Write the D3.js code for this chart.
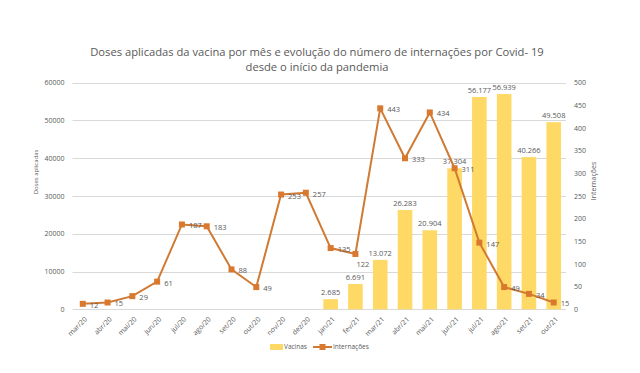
<!DOCTYPE html>
<html>
<head>
<meta charset="utf-8">
<script src="https://cdn.jsdelivr.net/npm/d3@7"></script>
<style>
  body { margin: 0; background: #fff; }
  text { font-family: "Open Sans", sans-serif; fill: #595959; }
</style>
</head>
<body>
<script>
var months = ["mar/20","abr/20","mai/20","jun/20","jul/20","ago/20","set/20","out/20","nov/20","dez/20",
              "jan/21","fev/21","mar/21","abr/21","mai/21","jun/21","jul/21","ago/21","set/21","out/21"];
var vacinas = [null,null,null,null,null,null,null,null,null,null,
               2685,6691,13072,26283,20904,37304,56177,56939,40266,49508];
var internacoes = [12,15,29,61,187,183,88,49,253,257,135,122,443,333,434,311,147,49,34,15];
var leftTicks = [0,10000,20000,30000,40000,50000,60000];
var rightTicks = [0,50,100,150,200,250,300,350,400,450,500];

var width = 640, height = 373;
var plotLeft = 70.5, plotRight = 566, plotTop = 82.5, plotBottom = 309.3;

var svg = d3.select("body").append("svg")
    .attr("width", width)
    .attr("height", height);

var x = d3.scaleBand().domain(months).range([plotLeft, plotRight]).paddingInner(0.41).paddingOuter(0.2);
var xc = function(d) { return x(d) + x.bandwidth() / 2; };
var yL = d3.scaleLinear().domain([0, 60000]).range([plotBottom, plotTop]);
var yR = d3.scaleLinear().domain([0, 500]).range([plotBottom, plotTop]);

var fmt = d3.formatLocale({decimal: ",", thousands: ".", grouping: [3], currency: ["R$", ""]}).format(",d");

// title
svg.append("text").attr("x", 317).attr("y", 56).attr("text-anchor", "middle")
  .style("font-size", "11.2px").text("Doses aplicadas da vacina por mês e evolução do número de internações por Covid- 19");
svg.append("text").attr("x", 317).attr("y", 71).attr("text-anchor", "middle")
  .style("font-size", "11.2px").text("desde o início da pandemia");

// gridlines
svg.append("g").selectAll("line").data(leftTicks).enter().append("line")
  .attr("x1", plotLeft + 2).attr("x2", plotRight)
  .attr("y1", function(d) { return Math.round(yL(d)) + 0.5; })
  .attr("y2", function(d) { return Math.round(yL(d)) + 0.5; })
  .attr("stroke", "#d9d9d9").attr("stroke-width", 1);

// left axis
var gl = svg.append("g").attr("transform", "translate(" + (plotLeft - 3) + ",0)")
  .call(d3.axisLeft(yL).tickValues(leftTicks).tickSize(0).tickFormat(d3.format("d")));
gl.select(".domain").remove();
gl.selectAll("text").style("font-size", "7px").style("font-family", "Open Sans");

// right axis
var gr = svg.append("g").attr("transform", "translate(" + (plotRight + 5) + ",0)")
  .call(d3.axisRight(yR).tickValues(rightTicks).tickSize(0));
gr.select(".domain").remove();
gr.selectAll("text").style("font-size", "7px").style("font-family", "Open Sans");

// axis titles
svg.append("text").attr("transform", "translate(38,172) rotate(-90)").attr("text-anchor", "middle")
  .style("font-size", "6px").text("Doses aplicadas");
svg.append("text").attr("transform", "translate(596,181) rotate(-90)").attr("text-anchor", "middle")
  .style("font-size", "7px").text("Internações");

// x labels
svg.append("g").selectAll("text").data(months).enter().append("text")
  .attr("transform", function(d) { return "translate(" + (xc(d) + 3) + ",318) rotate(-45)"; })
  .attr("text-anchor", "end").attr("dy", "0.35em")
  .style("font-size", "7px").text(function(d) { return d; });

// bars
var barData = months.map(function(m, i) { return {m: m, v: vacinas[i]}; }).filter(function(d) { return d.v != null; });
svg.append("g").selectAll("rect").data(barData).enter().append("rect")
  .attr("x", function(d) { return x(d.m); })
  .attr("width", x.bandwidth())
  .attr("y", function(d) { return yL(d.v); })
  .attr("height", function(d) { return yL(0) - yL(d.v); })
  .attr("fill", "#ffd966");
svg.append("g").selectAll("text").data(barData).enter().append("text")
  .attr("x", function(d) { return xc(d.m); })
  .attr("y", function(d) { return yL(d.v) - 4; })
  .attr("text-anchor", "middle").style("font-size", "7.5px")
  .text(function(d) { return fmt(d.v); });

// line
var lineData = months.map(function(m, i) { return {m: m, v: internacoes[i], i: i}; });
svg.append("path").datum(lineData)
  .attr("d", d3.line().x(function(d) { return xc(d.m); }).y(function(d) { return yR(d.v); }))
  .attr("fill", "none").attr("stroke", "#d07a33").attr("stroke-width", 2);
svg.append("g").selectAll("rect").data(lineData).enter().append("rect")
  .attr("x", function(d) { return xc(d.m) - 3; })
  .attr("y", function(d) { return yR(d.v) - 3; })
  .attr("width", 6).attr("height", 6)
  .attr("fill", "#d9792f");
svg.append("g").selectAll("text").data(lineData).enter().append("text")
  .attr("x", function(d) { return xc(d.m) + (d.i == 11 ? 1 : 7); })
  .attr("y", function(d) { return yR(d.v) + (d.i == 11 ? 13 : 4); })
  .style("font-size", "7.5px")
  .text(function(d) { return d.v; });

// legend
var lg = svg.append("g").attr("transform", "translate(0,347)");
lg.append("rect").attr("x", 270).attr("y", -3).attr("width", 13).attr("height", 6).attr("fill", "#ffd966");
lg.append("text").attr("x", 284).attr("y", 0).attr("dy", "0.35em").style("font-size", "6.5px").text("Vacinas");
lg.append("line").attr("x1", 313).attr("x2", 332).attr("y1", 0).attr("y2", 0).attr("stroke", "#d07a33").attr("stroke-width", 2);
lg.append("rect").attr("x", 319.5).attr("y", -3).attr("width", 6).attr("height", 6).attr("fill", "#d9792f");
lg.append("text").attr("x", 333).attr("y", 0).attr("dy", "0.35em").style("font-size", "6.5px").text("Internações");
</script>
</body>
</html>
